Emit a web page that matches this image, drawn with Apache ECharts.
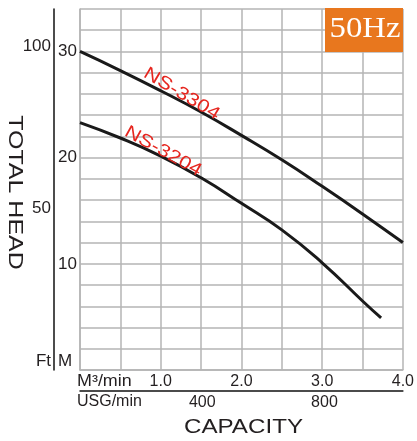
<!DOCTYPE html>
<html><head><meta charset="utf-8">
<script src="https://cdn.jsdelivr.net/npm/echarts@6/dist/echarts.min.js"></script>
<style>html,body{margin:0;padding:0;background:#fff}#c{width:417px;height:441px}</style>
</head><body><div id="c"></div>
<script>
// ---- data ----
const seriesNames = ['NS-3304', 'NS-3204'];
const flowNS3304 = [0, 0.5, 1.0, 1.5, 2.0, 2.5, 3.0, 3.5, 4.0];      // m3/min
const headNS3304 = [30.0, 28.2, 26.3, 24.3, 22.1, 19.8, 17.3, 14.7, 12.0]; // m
const flowNS3204 = [0, 0.5, 1.0, 1.5, 2.0, 2.5, 3.0, 3.5, 3.73];
const headNS3204 = [23.3, 21.85, 20.15, 18.1, 15.7, 13.2, 10.1, 6.5, 4.9];
const m3TickLabels = [1, 2, 3, 4];
const usgTickLabels = [400, 800];
const meterTickLabels = [10, 20, 30];
const feetTickLabels = [50, 100];

const FONT = '"Liberation Sans", Arial, sans-serif';
const TXT = '#231f20';
const GRIDC = '#b4b4b4';
const M3_TO_USG = 264.172;
const M_TO_FT = 1 / 0.3048;

const chart = echarts.init(document.getElementById('c'), null, {renderer: 'canvas'});
const zip = (xs, ys) => xs.map((x, i) => [x, ys[i]]);

chart.setOption({
  animation: false,
  backgroundColor: '#fff',
  grid: {left: 80, top: 9, right: 10, bottom: 71, containLabel: false},
  xAxis: [
    {
      type: 'value', position: 'bottom', min: 0, max: 4, interval: 0.5,
      axisLine: {show: true, lineStyle: {color: GRIDC, width: 1.5}},
      axisTick: {show: false},
      splitLine: {show: true, lineStyle: {color: GRIDC, width: 1.5}},
      axisLabel: {
        margin: 4, fontSize: 16, color: TXT, fontFamily: FONT,
        showMinLabel: true, showMaxLabel: true,
        formatter: v => m3TickLabels.some(t => Math.abs(t - v) < 1e-9) ? v.toFixed(1) : ''
      }
    },
    {
      type: 'value', position: 'bottom', offset: 21, min: 0, max: 4 * M3_TO_USG, interval: 400,
      axisLine: {show: true, onZero: false, lineStyle: {color: '#111', width: 1.5}},
      axisTick: {show: false},
      splitLine: {show: false},
      axisLabel: {
        margin: 4, fontSize: 16, color: TXT, fontFamily: FONT,
        formatter: v => usgTickLabels.includes(v) ? String(v) : ''
      }
    }
  ],
  yAxis: [
    {
      type: 'value', position: 'left', min: 0, max: 34, interval: 2,
      axisLine: {show: true, lineStyle: {color: GRIDC, width: 1.5}},
      axisTick: {show: false},
      splitLine: {show: true, lineStyle: {color: GRIDC, width: 1.5}},
      axisLabel: {
        margin: 3, fontSize: 17, color: TXT, fontFamily: FONT,
        formatter: v => meterTickLabels.includes(v) ? String(v) : ''
      }
    },
    {
      type: 'value', position: 'left', offset: 26, min: 0, max: 34 * M_TO_FT, interval: 50,
      axisLine: {show: true, onZero: false, lineStyle: {color: '#111', width: 1.5}},
      axisTick: {show: false},
      splitLine: {show: false},
      axisLabel: {
        margin: 3, fontSize: 17, color: TXT, fontFamily: FONT,
        formatter: v => feetTickLabels.includes(v) ? String(v) : ''
      }
    }
  ],
  series: [
    {
      name: seriesNames[0], type: 'line', xAxisIndex: 0, yAxisIndex: 0,
      data: zip(flowNS3304, headNS3304), smooth: 0.5, symbol: 'none', silent: true,
      lineStyle: {color: '#1a1a1a', width: 3}
    },
    {
      name: seriesNames[1], type: 'line', xAxisIndex: 0, yAxisIndex: 0,
      data: zip(flowNS3204, headNS3204), smooth: 0.5, symbol: 'none', silent: true,
      lineStyle: {color: '#1a1a1a', width: 3}
    }
  ]
});

const p1 = chart.convertToPixel({xAxisIndex: 0, yAxisIndex: 0}, [1.26, 26.0]);
const p2 = chart.convertToPixel({xAxisIndex: 0, yAxisIndex: 0}, [1.03, 20.6]);
const deg = Math.PI / 180;

chart.setOption({
  graphic: [
    {type: 'rect', shape: {x: 325, y: 8, width: 78, height: 44}, style: {fill: '#E8771E'}, z: 10},
    {type: 'text', x: 365, y: 29.5, scaleX: 1.13, z: 11,
      style: {text: '50Hz', fill: '#fff', font: '29px "Liberation Serif", "Times New Roman", serif', align: 'center', verticalAlign: 'middle'}},
    {type: 'text', x: 15, y: 192.5, rotation: -Math.PI / 2, scaleX: 1.25, z: 11,
      style: {text: 'TOTAL HEAD', fill: TXT, font: '20px ' + FONT, align: 'center', verticalAlign: 'middle'}},
    {type: 'text', x: 243.5, y: 427, scaleX: 1.15, z: 11,
      style: {text: 'CAPACITY', fill: TXT, font: '21px ' + FONT, align: 'center', verticalAlign: 'middle'}},
    {type: 'text', x: 77, y: 382, scaleX: 1.12, z: 11,
      style: {text: 'M³/min', fill: TXT, font: '16px ' + FONT, align: 'left', verticalAlign: 'middle'}},
    {type: 'text', x: 77, y: 401.5, z: 11,
      style: {text: 'USG/min', fill: TXT, font: '16px ' + FONT, align: 'left', verticalAlign: 'middle'}},
    {type: 'text', x: 51, y: 370, z: 11,
      style: {text: 'Ft', fill: TXT, font: '17px ' + FONT, align: 'right', verticalAlign: 'bottom'}},
    {type: 'text', x: 58, y: 370, z: 11,
      style: {text: 'M', fill: TXT, font: '17px ' + FONT, align: 'left', verticalAlign: 'bottom'}},
    {type: 'text', x: p1[0], y: p1[1], rotation: -31 * deg, scaleX: 1.2, z: 11,
      style: {text: seriesNames[0], fill: '#e6261f', font: '18px ' + FONT, align: 'center', verticalAlign: 'middle'}},
    {type: 'text', x: p2[0], y: p2[1], rotation: -29 * deg, scaleX: 1.2, z: 11,
      style: {text: seriesNames[1], fill: '#e6261f', font: '18px ' + FONT, align: 'center', verticalAlign: 'middle'}}
  ]
});
</script>
</body></html>
